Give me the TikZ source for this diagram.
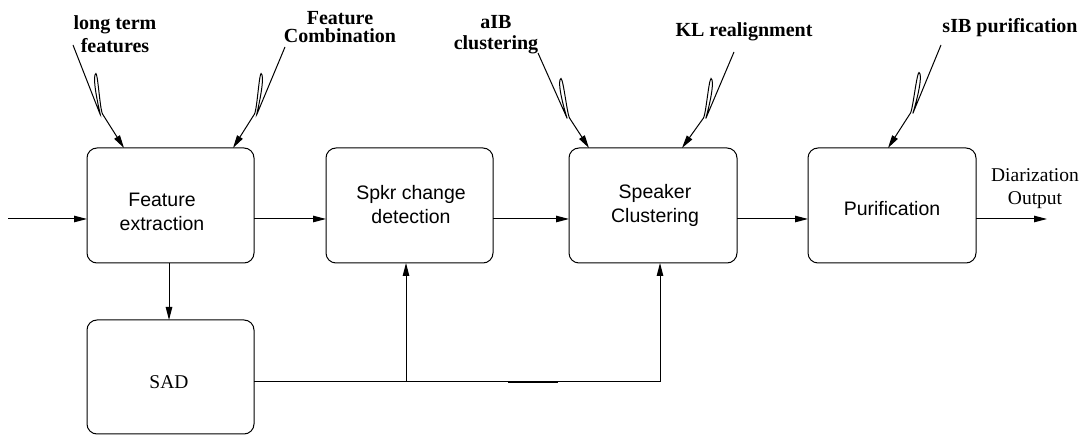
\documentclass[tikz,border=0pt]{standalone}
\usepackage{fontspec}
\setmainfont{Liberation Serif}
\setsansfont{Liberation Sans}
\usetikzlibrary{arrows.meta}
\begin{document}
\begin{tikzpicture}[x=1pt,y=-1pt,
  box/.style={draw, rounded corners=10pt, line width=1pt, inner sep=0pt, outer sep=0pt, anchor=north west},
  boxtext/.style={font=\fontsize{19.5}{24}\selectfont\sffamily, align=center, inner sep=0pt},
  lab/.style={font=\fontsize{20}{23}\selectfont\rmfamily\bfseries, align=center, inner sep=0pt},
  serif/.style={font=\fontsize{19.5}{23}\selectfont\rmfamily, align=center, inner sep=0pt},
  conn/.style={line width=1pt},
  arr/.style={line width=1pt, -{Triangle[length=13pt,width=6.5pt]}}]
\useasboundingbox (0,0) rectangle (1085,435);

% boxes
\node[box, minimum width=167pt, minimum height=115pt] (fe)  at (87,148)  {};
\node[box, minimum width=167pt, minimum height=115pt] (scd) at (326,148) {};
\node[box, minimum width=168pt, minimum height=115pt] (spk) at (569,148) {};
\node[box, minimum width=168pt, minimum height=115pt] (pur) at (808,148) {};
\node[box, minimum width=167pt, minimum height=114pt] (sad) at (87,320)  {};

% box texts
\node[boxtext] (tfe)  at (162,212) {Feature\\extraction};
\node[boxtext] (tscd) at (411,205) {Spkr change\\detection};
\node[boxtext] (tspk) at (655,205) {Speaker\\Clustering};
\node[boxtext] (tpur) at (892,209) {Purification};
\node[serif]   (tsad) at (169,382) {SAD};

% top labels
\node[lab, font=\fontsize{20}{23.4}\selectfont\rmfamily\bfseries] (l1) at (115,34.3) {long term\\features};
\node[lab, font=\fontsize{20}{18.3}\selectfont\rmfamily\bfseries] (l2) at (340,27.4) {Feature\\Combination};
\node[lab, font=\fontsize{20}{20.7}\selectfont\rmfamily\bfseries] (l3) at (496,35) {aIB\\clustering};
\node[lab, anchor=base] (l4) at (744,37) {KL realignment};
\node[lab, anchor=base] (l5) at (1010,33) {sIB purification};

% output label
\node[serif] (tout) at (1035,189) {Diarization\\Output};

% main flow
\coordinate (row) at (0,219);
\coordinate (inp) at (8,219);
\coordinate (outp) at (1047,219);
\draw[arr] (inp) -- (fe.west |- row);
\draw[arr] (fe.east |- row) -- (scd.west |- row);
\draw[arr] (scd.east |- row) -- (spk.west |- row);
\draw[arr] (spk.east |- row) -- (pur.west |- row);
\draw[arr] (pur.east |- row) -- (outp);

% SAD
\draw[arr] ([xshift=-1.5pt]fe.south) -- ([xshift=-1.5pt]sad.north);
\coordinate (j1) at (406,382);
\coordinate (j2) at (660,382);
\draw[conn] (sad.east |- j1) -- (j2);
\draw[arr] (j1) -- (scd.south -| j1);
\draw[arr] (j2) -- (spk.south -| j2);
\coordinate (a1) at (508,382);
\coordinate (a2) at (558,382);
\draw[line width=1.25pt] (a1) -- (a2);

% squiggle arrows
\coordinate (s1) at (73,45);
\coordinate (s2) at (285,47);
\coordinate (s3) at (538,53);
\coordinate (s4) at (734,52);
\coordinate (s5) at (941,45);
\draw[arr] (s1) -- (100,114) .. controls +(2,6) and +(-2.5,10) .. (95,75)
  .. controls +(2.5,-10) and +(-3,-6) .. (102.5,114) -- ([xshift=37pt]fe.north west);
\draw[arr] (s2) -- (257,114) .. controls +(-2,6) and +(2.5,10) .. (262,75)
  .. controls +(-2.5,-10) and +(3,-6) .. (254.5,114) -- ([xshift=146pt]fe.north west);
\draw[arr] (s3) -- (567,118) .. controls +(2,6) and +(-2.5,10) .. (560,80)
  .. controls +(2.5,-10) and +(-3,-6) .. (569.5,118) -- ([xshift=20pt]spk.north west);
\draw[arr] (s4) -- (706,118) .. controls +(-2,6) and +(2.5,10) .. (712,80)
  .. controls +(-2.5,-10) and +(3,-6) .. (703.5,118) -- ([xshift=113pt]spk.north west);
\draw[arr] (s5) -- (913,113) .. controls +(-2,6) and +(2.5,10) .. (920,74)
  .. controls +(-2.5,-10) and +(3,-6) .. (910.5,113) -- ([xshift=80pt]pur.north west);
\end{tikzpicture}
\end{document}
